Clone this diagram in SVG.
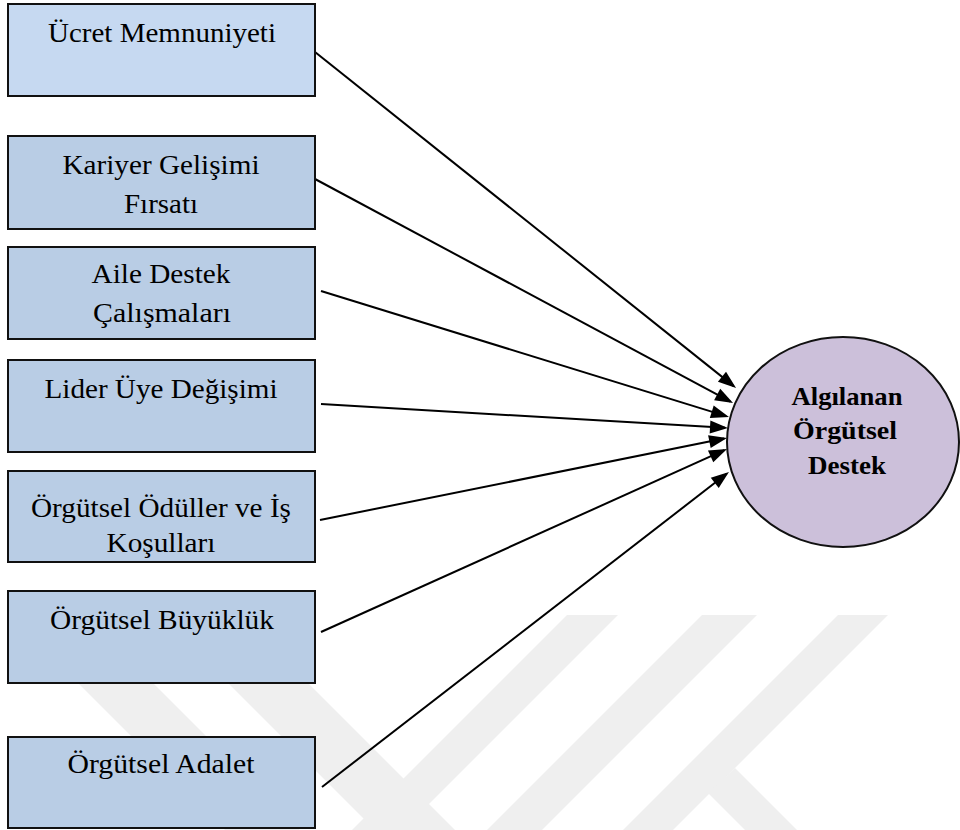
<svg xmlns="http://www.w3.org/2000/svg" width="960" height="830" viewBox="0 0 960 830">
  <style>
    .box { fill: #b9cde5; stroke: #111; stroke-width: 2; }
    .box.first { fill: #c6d9f1; }
    .lbl { font-family: "Liberation Serif", "Times New Roman", serif; font-size: 27px; fill: #000; text-anchor: middle; }
    .hub { fill: #ccc0da; stroke: #111; stroke-width: 2; }
    .hublbl { font-family: "Liberation Serif", "Times New Roman", serif; font-size: 26px; font-weight: bold; fill: #000; text-anchor: middle; }
    .link { stroke: #000; stroke-width: 2; fill: none; marker-end: url(#head); }
    .wm { fill: #efefef; }
  </style>
  <defs>
    <marker id="head" markerUnits="userSpaceOnUse" markerWidth="18" markerHeight="13" refX="15" refY="6.5" orient="auto" overflow="visible">
      <path d="M0,0 L18,6.5 L0,13 Z" fill="#000"/>
    </marker>
  </defs>

  <rect width="960" height="830" fill="#fff"/>

  <!-- faint background emblem -->
  <g id="emblem">
    <polygon class="wm" points="10,615 85,615 300,830 225,830"/>
    <polygon class="wm" points="160,615 240,615 455,830 375,830"/>
    <polygon class="wm" points="567,615 618,615 403,830 352,830"/>
    <polygon class="wm" points="702,615 757,615 542,830 487,830"/>
    <polygon class="wm" points="838,615 888,615 673,830 623,830"/>
    <polygon class="wm" points="735,768 797,830 745,830 708,793"/>
  </g>

  <!-- connectors -->
  <g id="connectors">
    <line class="link" x1="315" y1="52" x2="733.7" y2="386.1"/>
    <line class="link" x1="315" y1="179" x2="730.4" y2="401.6"/>
    <line class="link" x1="321" y1="291" x2="726.1" y2="416.1"/>
    <line class="link" x1="321" y1="404" x2="725" y2="427.8"/>
    <line class="link" x1="320" y1="520" x2="724.1" y2="438.6"/>
    <line class="link" x1="321" y1="632" x2="724.3" y2="450.2"/>
    <line class="link" x1="322" y1="787" x2="726.6" y2="473.8"/>
  </g>

  <g id="ucret">
    <rect class="box first" x="8" y="4" width="307" height="92"/>
    <text class="lbl" x="162" y="42" textLength="228" lengthAdjust="spacingAndGlyphs">Ücret Memnuniyeti</text>
  </g>
  <g id="kariyer">
    <rect class="box" x="8" y="136" width="307" height="93"/>
    <text class="lbl" x="161" y="174" textLength="197" lengthAdjust="spacingAndGlyphs">Kariyer Gelişimi</text>
    <text class="lbl" x="161" y="213" textLength="74" lengthAdjust="spacingAndGlyphs">Fırsatı</text>
  </g>
  <g id="aile">
    <rect class="box" x="8" y="247" width="307" height="92"/>
    <text class="lbl" x="161" y="283" textLength="139" lengthAdjust="spacingAndGlyphs">Aile Destek</text>
    <text class="lbl" x="162" y="322" textLength="138" lengthAdjust="spacingAndGlyphs">Çalışmaları</text>
  </g>
  <g id="lider">
    <rect class="box" x="8" y="360" width="307" height="92"/>
    <text class="lbl" x="161" y="398" textLength="233" lengthAdjust="spacingAndGlyphs">Lider Üye Değişimi</text>
  </g>
  <g id="oduller">
    <rect class="box" x="8" y="471" width="307" height="91"/>
    <text class="lbl" x="161" y="517" textLength="260" lengthAdjust="spacingAndGlyphs">Örgütsel Ödüller ve İş</text>
    <text class="lbl" x="161" y="552" textLength="109" lengthAdjust="spacingAndGlyphs">Koşulları</text>
  </g>
  <g id="buyukluk">
    <rect class="box" x="8" y="591" width="307" height="92"/>
    <text class="lbl" x="162" y="629" textLength="224" lengthAdjust="spacingAndGlyphs">Örgütsel Büyüklük</text>
  </g>
  <g id="adalet">
    <rect class="box" x="8" y="737" width="307" height="91"/>
    <text class="lbl" x="161" y="773" textLength="187" lengthAdjust="spacingAndGlyphs">Örgütsel Adalet</text>
  </g>

  <g id="destek">
    <ellipse class="hub" cx="843" cy="442" rx="116" ry="105"/>
    <text class="hublbl" x="847" y="405" textLength="111" lengthAdjust="spacingAndGlyphs">Algılanan</text>
    <text class="hublbl" x="845" y="439" textLength="104" lengthAdjust="spacingAndGlyphs">Örgütsel</text>
    <text class="hublbl" x="847" y="474" textLength="78" lengthAdjust="spacingAndGlyphs">Destek</text>
  </g>
</svg>
